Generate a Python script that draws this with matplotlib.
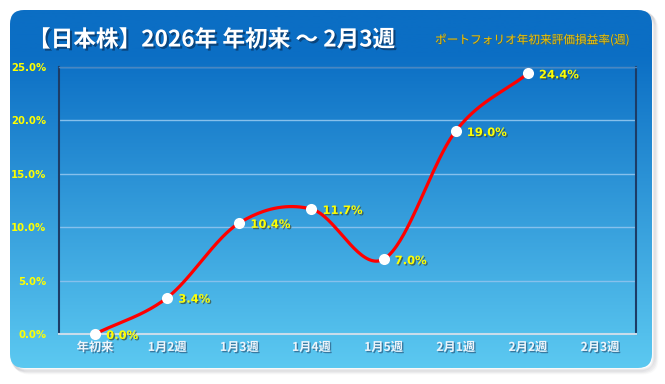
import numpy as np
import matplotlib
matplotlib.use("Agg")
import matplotlib.pyplot as plt
from matplotlib.patches import FancyBboxPatch
import matplotlib.patheffects as pe

plt.rcParams['font.family'] = ['Noto Sans CJK JP', 'DejaVu Sans']

categories = ["年初来", "1月2週", "1月3週", "1月4週", "1月5週", "2月1週", "2月2週", "2月3週"]
values = [0.0, 3.4, 10.4, 11.7, 7.0, 19.0, 24.4]
yticks = [0, 5, 10, 15, 20, 25]
title = "【日本株】2026年 年初来 ～ 2月3週"
subtitle = "ポートフォリオ年初来評価損益率(週)"

W, H = 665, 384
fig = plt.figure(figsize=(W / 100, H / 100), dpi=100)
fig.patch.set_facecolor("white")

# background panel with shadow and gradient
bg = fig.add_axes([0, 0, 1, 1])
bg.set_xlim(0, W)
bg.set_ylim(H, 0)
bg.axis("off")
for i, a in enumerate([0.10, 0.08, 0.06, 0.04]):
    sh = FancyBboxPatch((12 + i, 12 + i), 642, 358, boxstyle="round,pad=0,rounding_size=14",
                        facecolor="none", edgecolor=(0.4, 0.4, 0.45, a), linewidth=2)
    bg.add_patch(sh)
panel = FancyBboxPatch((10, 10), 642, 358, boxstyle="round,pad=0,rounding_size=14",
                       facecolor="none", edgecolor="none")
bg.add_patch(panel)
top = np.array([0x0b, 0x6e, 0xc4]) / 255
bot = np.array([0x5c, 0xc9, 0xf1]) / 255
t = np.linspace(0, 1, 256)
tt = np.clip((t - 0.12) / 0.88, 0, 1)
grad = (top[None, :] * (1 - tt[:, None]) + bot[None, :] * tt[:, None])[:, None, :]
im = bg.imshow(grad, extent=[10, 652, 368, 10], aspect="auto", zorder=1)
im.set_clip_path(panel)

# main axes
L, R, T, B = 59, 636, 67, 334
ax = fig.add_axes([L / W, 1 - B / H, (R - L) / W, (B - T) / H])
ax.set_facecolor("none")
ax.set_xlim(-0.5, len(categories) - 0.5)
ax.set_ylim(0, 25)

for y in yticks[1:]:
    ax.axhline(y, color="#86c0ec", linewidth=1.0, zorder=1)

for s in ["left", "right"]:
    ax.spines[s].set_color("#1c3c66")
    ax.spines[s].set_linewidth(1.5)
ax.spines["top"].set_color("#4a86c0")
ax.spines["top"].set_linewidth(1.0)
ax.spines["bottom"].set_color("#c9dcea")
ax.spines["bottom"].set_linewidth(1.5)

# smoothed line (Catmull-Rom)
xs = np.arange(len(values), dtype=float)
ys = np.array(values, dtype=float)
px = np.concatenate([[2 * xs[0] - xs[1]], xs, [2 * xs[-1] - xs[-2]]])
py = np.concatenate([[2 * ys[0] - ys[1]], ys, [2 * ys[-1] - ys[-2]]])
cx, cy = [], []
u = np.linspace(0, 1, 40)
for i in range(1, len(px) - 2):
    p0, p1, p2, p3 = [np.array([px[j], py[j]]) for j in range(i - 1, i + 3)]
    c1 = p1 + (p2 - p0) / 6
    c2 = p2 - (p3 - p1) / 6
    pts = ((1 - u) ** 3)[:, None] * p1 + (3 * (1 - u) ** 2 * u)[:, None] * c1 + \
          (3 * (1 - u) * u ** 2)[:, None] * c2 + (u ** 3)[:, None] * p2
    cx.extend(pts[:, 0]); cy.extend(pts[:, 1])
ax.plot(cx, cy, color="#ff0000", linewidth=2.3, zorder=3, clip_on=False, solid_capstyle="round")
ax.plot(xs, ys, "o", color="white", markersize=8, markeredgewidth=0, zorder=4, clip_on=False)

shadow = [pe.SimplePatchShadow(offset=(1, -1), shadow_rgbFace="#3a3a10", alpha=0.6), pe.Normal()]
for x, v in zip(xs, ys):
    ax.annotate(f"{v:.1f}%", (x, v), xytext=(8, -1), textcoords="offset points",
                ha="left", va="center", color="#ffff00", fontsize=8.3, fontweight="bold",
                family=["DejaVu Sans"], path_effects=shadow, zorder=5)

ax.set_xticks(range(len(categories)))
ax.set_xticklabels(categories)
ax.set_yticks(yticks)
ax.set_yticklabels([f"{y:.1f}%" for y in yticks])
ax.tick_params(axis="both", length=0)
ax.tick_params(axis="y", colors="#ffff00", labelsize=7.3, pad=9)
ax.tick_params(axis="x", colors="#eef4fa", labelsize=8.8, pad=5)
for lab in ax.get_yticklabels():
    lab.set_fontweight("bold")
    lab.set_family(["DejaVu Sans"])
for lab in ax.get_xticklabels():
    lab.set_fontweight("bold")
    lab.set_path_effects([pe.SimplePatchShadow(offset=(1, -1), shadow_rgbFace="#2a5a80", alpha=0.7), pe.Normal()])

fig.text(28 / W, 1 - 40 / H, title, color="white", fontsize=16.3, fontweight="bold",
         ha="left", va="center",
         path_effects=[pe.SimplePatchShadow(offset=(1.5, -1.5), shadow_rgbFace="#0a3a6a", alpha=0.8), pe.Normal()])
fig.text(629 / W, 1 - 40 / H, subtitle, color="#f2c200", fontsize=8.4, style="italic",
         ha="right", va="center",
         path_effects=[pe.SimplePatchShadow(offset=(0.5, -0.5), shadow_rgbFace="#7a6000", alpha=0.6), pe.Normal()])

fig.savefig("out.png", dpi=100, facecolor="white")
